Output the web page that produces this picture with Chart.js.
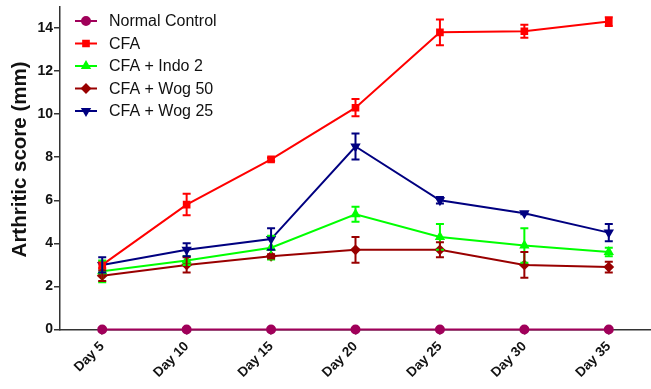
<!DOCTYPE html>
<html>
<head>
<meta charset="utf-8">
<script src="https://cdn.jsdelivr.net/npm/chart.js@4/dist/chart.umd.min.js"></script>
<style>
  html, body { margin: 0; padding: 0; background: #fff; }
  #wrap { width: 651px; height: 389px; }
</style>
</head>
<body>
<div id="wrap"><canvas id="c" width="651" height="389"></canvas></div>
<script>
// categories
var days = ["Day 5", "Day 10", "Day 15", "Day 20", "Day 25", "Day 30", "Day 35"];

// mean values per group
var normalControl = [0, 0, 0, 0, 0, 0, 0];
var cfa = [3.0, 5.8, 7.9, 10.3, 13.8, 13.85, 14.3];
var indo2 = [2.7, 3.2, 3.8, 5.35, 4.3, 3.9, 3.6];
var wog50 = [2.5, 3.0, 3.4, 3.7, 3.7, 3.0, 2.9];
var wog25 = [3.0, 3.7, 4.2, 8.5, 6.0, 5.4, 4.5];

// error bar half-lengths (SEM)
var normalControlErr = [0, 0, 0, 0, 0, 0, 0];
var cfaErr = [0.15, 0.5, 0.08, 0.4, 0.6, 0.3, 0.2];
var indo2Err = [0.5, 0.2, 0.55, 0.35, 0.6, 0.8, 0.2];
var wog50Err = [0.25, 0.35, 0.1, 0.6, 0.35, 0.6, 0.25];
var wog25Err = [0.35, 0.3, 0.5, 0.6, 0.15, 0.05, 0.4];

var yTicks = [0, 2, 4, 6, 8, 10, 12, 14];

var FONT = "'Liberation Sans', Arial, sans-serif";

function series(label, data, err, color, style, rot) {
  return {
    label: label,
    data: data,
    err: err,
    borderColor: color,
    backgroundColor: color,
    pointBackgroundColor: color,
    pointBorderColor: color,
    pointStyle: style,
    rotation: rot || 0,
    pointRadius: 4,
    pointHoverRadius: 4,
    borderWidth: 2,
    tension: 0,
    clip: false
  };
}

// draws the vertical error bars with caps
var errorBars = {
  id: "errorBars",
  afterDatasetsDraw: function (chart) {
    var ctx = chart.ctx;
    var y = chart.scales.y;
    chart.data.datasets.forEach(function (ds, i) {
      var meta = chart.getDatasetMeta(i);
      ctx.save();
      ctx.strokeStyle = ds.borderColor;
      ctx.lineWidth = 2;
      meta.data.forEach(function (pt, j) {
        var e = ds.err[j];
        if (!e) return;
        var top = y.getPixelForValue(ds.data[j] + e);
        var bot = y.getPixelForValue(ds.data[j] - e);
        ctx.beginPath();
        ctx.moveTo(pt.x, top);
        ctx.lineTo(pt.x, bot);
        ctx.moveTo(pt.x - 4, top);
        ctx.lineTo(pt.x + 4, top);
        ctx.moveTo(pt.x - 4, bot);
        ctx.lineTo(pt.x + 4, bot);
        ctx.stroke();
      });
      ctx.restore();
    });
  }
};

// legend drawn inside the plot, top left
var insideLegend = {
  id: "insideLegend",
  afterDraw: function (chart) {
    var ctx = chart.ctx;
    var x0 = chart.chartArea.left + 15;
    var y0 = 21;
    chart.data.datasets.forEach(function (ds, i) {
      var yy = y0 + i * 22.5;
      ctx.save();
      ctx.strokeStyle = ds.borderColor;
      ctx.lineWidth = 2;
      ctx.beginPath();
      ctx.moveTo(x0, yy);
      ctx.lineTo(x0 + 22, yy);
      ctx.stroke();
      ctx.fillStyle = ds.borderColor;
      Chart.helpers.drawPoint(ctx, {
        pointStyle: ds.pointStyle,
        rotation: ds.rotation,
        radius: 4,
        borderWidth: 1
      }, x0 + 11, yy);
      ctx.fillStyle = "#111";
      ctx.font = "16px " + FONT;
      ctx.textBaseline = "middle";
      ctx.fillText(ds.label, x0 + 34, yy + 1);
      ctx.restore();
    });
  }
};

new Chart(document.getElementById("c"), {
  type: "line",
  data: {
    labels: days,
    datasets: [
      series("Normal Control", normalControl, normalControlErr, "#A0005A", "circle"),
      series("CFA", cfa, cfaErr, "#FF0000", "rect"),
      series("CFA + Indo 2", indo2, indo2Err, "#00FF00", "triangle"),
      series("CFA + Wog 50", wog50, wog50Err, "#990000", "rectRot"),
      series("CFA + Wog 25", wog25, wog25Err, "#000080", "triangle", 180)
    ]
  },
  options: {
    responsive: false,
    animation: false,
    events: [],
    layout: { autoPadding: false, padding: { top: 6.5, right: -5, left: 0, bottom: 0 } },
    plugins: { legend: { display: false }, tooltip: { enabled: false } },
    scales: {
      x: {
        offset: true,
        border: { color: "#333", width: 1.5 },
        grid: { offset: false, drawOnChartArea: false, tickLength: 5, color: "#333", lineWidth: 1.5 },
        ticks: {
          color: "#111",
          minRotation: 45,
          maxRotation: 45,
          padding: 4,
          font: { family: FONT, size: 13.5, weight: "bold" }
        },
        afterFit: function (s) {
          s.height = 59.5;
          s.paddingLeft = 0;
          s.paddingRight = 0;
        }
      },
      y: {
        min: 0,
        max: 15,
        border: { color: "#333", width: 1.5 },
        grid: { drawOnChartArea: false, tickLength: 6, color: "#333", lineWidth: 1.5 },
        afterBuildTicks: function (s) {
          s.ticks = yTicks.map(function (v) { return { value: v }; });
        },
        ticks: {
          color: "#111",
          padding: 1,
          font: { family: FONT, size: 14, weight: "bold" }
        },
        title: {
          display: true,
          text: "   Arthritic score (mm)",
          color: "#111",
          padding: { top: 8, bottom: 0 },
          font: { family: FONT, size: 20.5, weight: "bold" }
        },
        afterFit: function (s) {
          s.width = 60;
          s.paddingTop = 0;
          s.paddingBottom = 0;
        }
      }
    }
  },
  plugins: [errorBars, insideLegend]
});
</script>
</body>
</html>
